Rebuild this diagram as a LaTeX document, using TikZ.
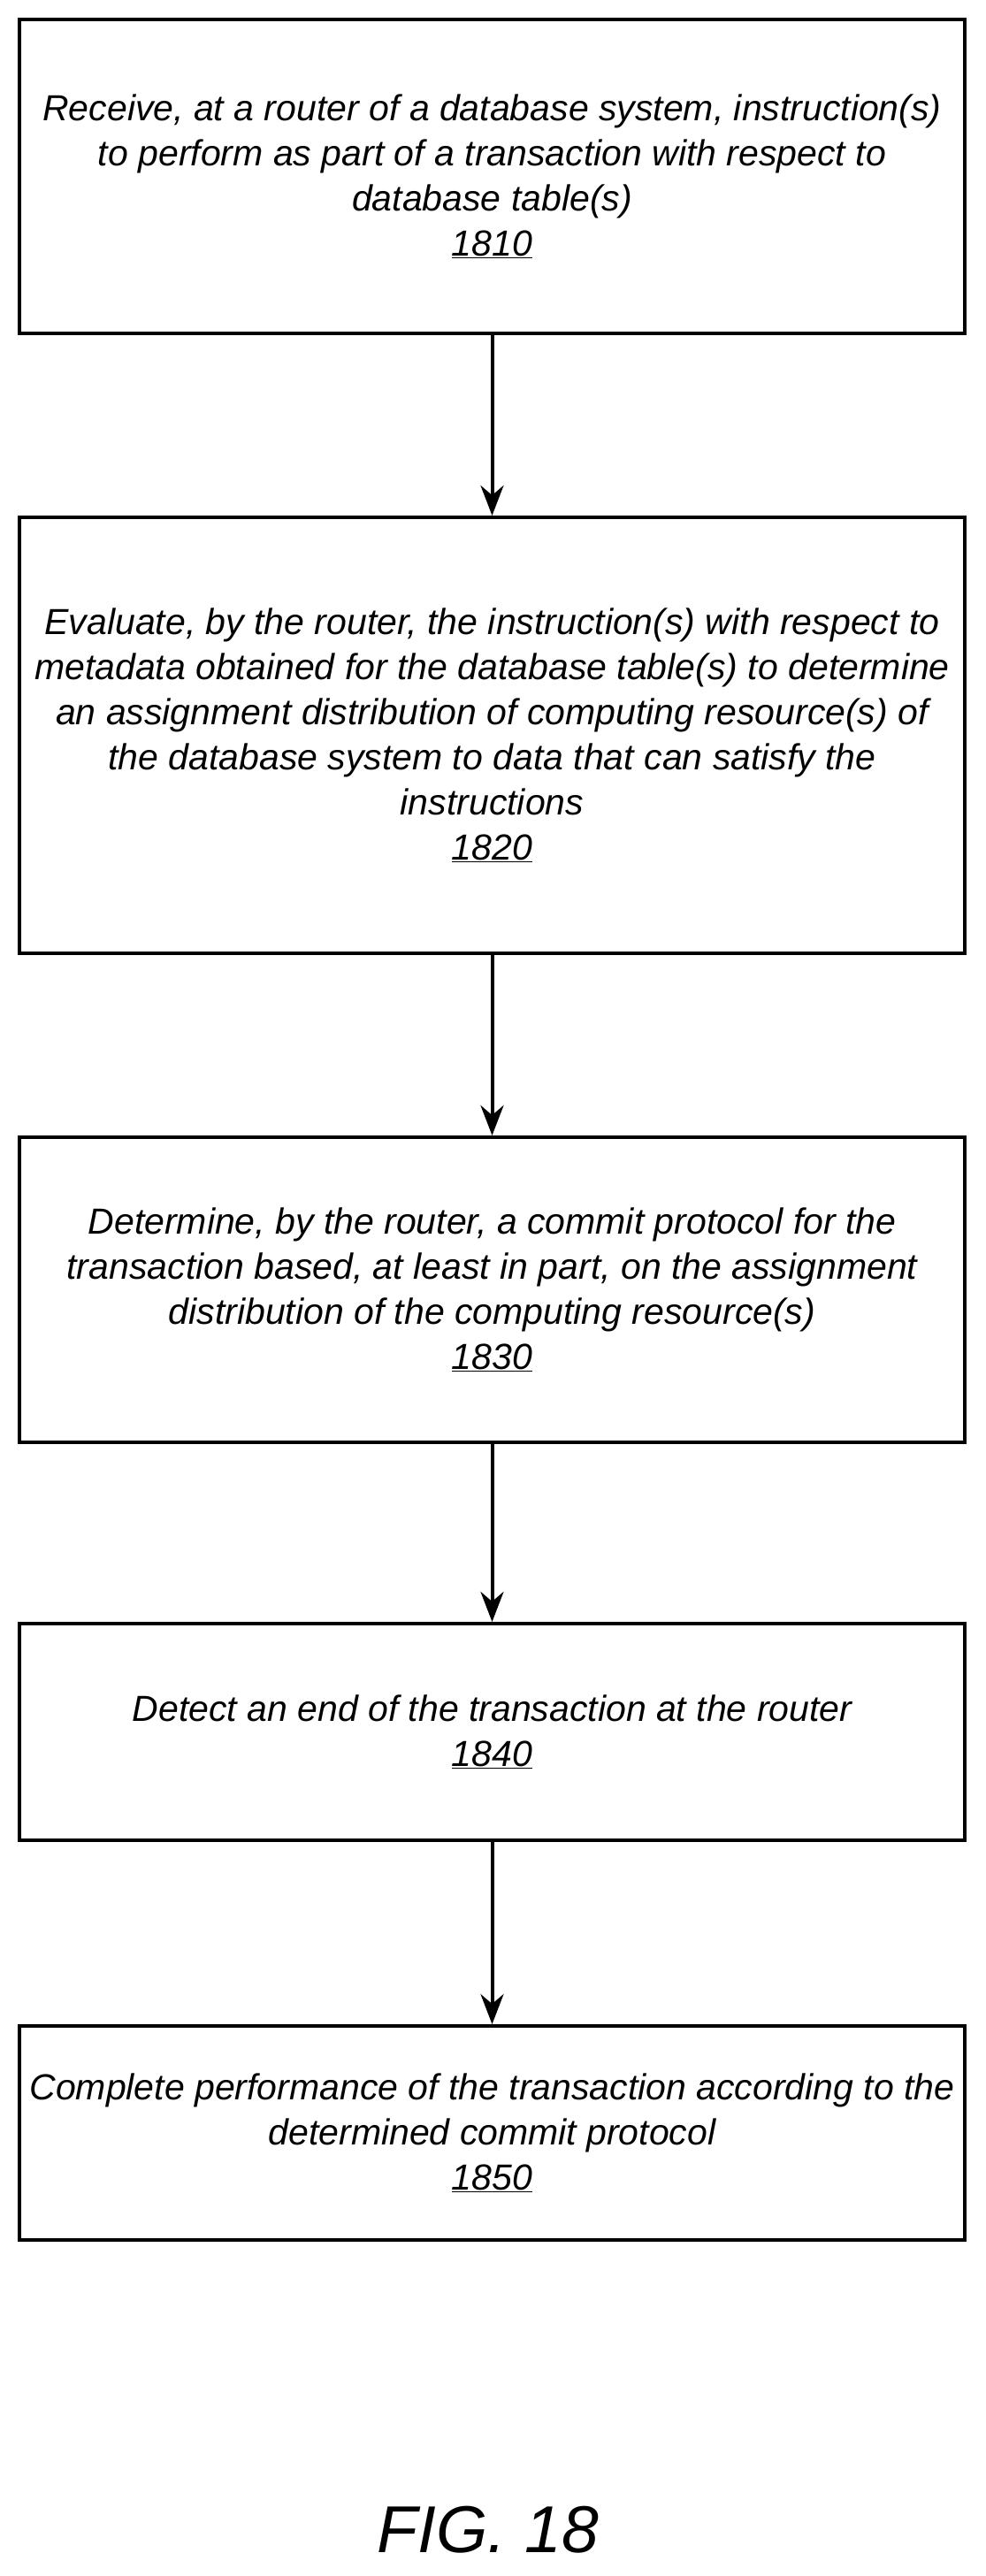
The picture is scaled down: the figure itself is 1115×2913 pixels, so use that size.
\documentclass[tikz,border=0pt]{standalone}
\usepackage{fontspec}
\setmainfont{Liberation Sans}
\usetikzlibrary{arrows.meta}
\begin{document}
\begin{tikzpicture}[x=1pt,y=1pt,
  box/.style={draw,line width=4pt,inner sep=0pt},
  txt/.style={align=center,font=\fontsize{41}{51}\selectfont\itshape},
  arr/.style={line width=4pt,-{Stealth[length=34pt,width=26pt]}}]
\useasboundingbox (0,0) rectangle (1115,-2913);
\node[box,minimum width=1069pt,minimum height=355pt] (b1) at (556.5,-199.5) {};
\node[txt] at (b1) {Receive, at a router of a database system, instruction(s)\\to perform as part of a transaction with respect to\\database table(s)\\\underline{1810}};
\node[box,minimum width=1069pt,minimum height=493pt] (b2) at (556.5,-831.5) {};
\node[txt] at (b2) {Evaluate, by the router, the instruction(s) with respect to\\metadata obtained for the database table(s) to determine\\an assignment distribution of computing resource(s) of\\the database system to data that can satisfy the\\instructions\\\underline{1820}};
\node[box,minimum width=1069pt,minimum height=345pt] (b3) at (556.5,-1458.5) {};
\node[txt] at (b3) {Determine, by the router, a commit protocol for the\\transaction based, at least in part, on the assignment\\distribution of the computing resource(s)\\\underline{1830}};
\node[box,minimum width=1069pt,minimum height=245pt] (b4) at (556.5,-1958.5) {};
\node[txt] at (b4) {Detect an end of the transaction at the router\\\underline{1840}};
\node[box,minimum width=1069pt,minimum height=242pt] (b5) at (556.5,-2412) {};
\node[txt] at (b5) {Complete performance of the transaction according to the\\determined commit protocol\\\underline{1850}};
\draw[arr] (b1.south) -- (b2.north);
\draw[arr] (b2.south) -- (b3.north);
\draw[arr] (b3.south) -- (b4.north);
\draw[arr] (b4.south) -- (b5.north);
\node[font=\fontsize{75}{80}\selectfont\itshape] (fig) at (552,-2861) {FIG. 18};
\end{tikzpicture}
\end{document}
